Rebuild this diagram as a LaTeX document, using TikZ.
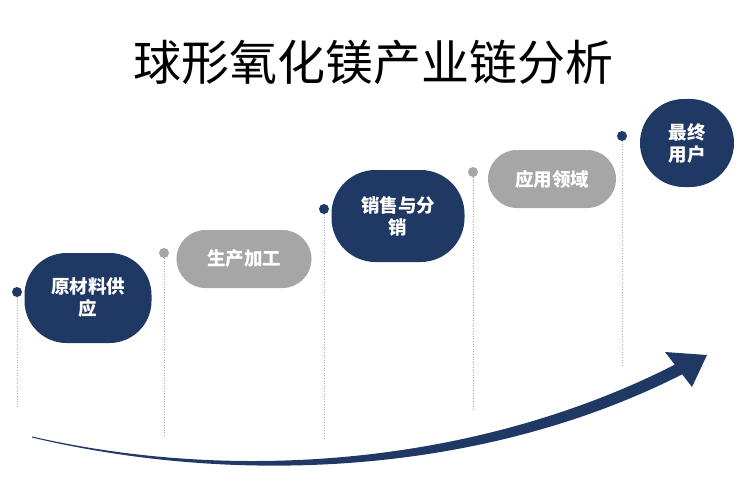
\documentclass[tikz,border=0pt]{standalone}
\usepackage{fontspec}
\setmainfont{Noto Sans CJK SC}
\definecolor{navy}{HTML}{203864}
\definecolor{pillgray}{HTML}{A6A6A6}

\begin{document}
\begin{tikzpicture}[x=1pt, y=-1pt,
  pilltext/.style={text=white, font=\fontsize{18.5}{22}\selectfont\bfseries, align=center, inner sep=0pt},
  darkpill/.style={pilltext, fill=navy},
  greypill/.style={pilltext, fill=pillgray, minimum height=58pt, rounded corners=29pt},
  keydot/.style={circle, inner sep=0pt, minimum size=10pt},
  dropline/.style={dotted, line width=0.6pt}]
  \useasboundingbox (0,0) rectangle (741,492);
  % --- title ---
  \node (title) at (373,62) {\fontsize{48}{56}\selectfont 球形氧化镁产业链分析};
  % --- stages ---
  \node[darkpill, minimum width=127pt, minimum height=90pt, rounded corners=42pt] (raw) at (88,298) {原材料供\\应};
  \node[greypill, minimum width=135pt] (prod) at (244,259) {生产加工};
  \node[darkpill, minimum width=133pt, minimum height=92pt, rounded corners=44pt] (sale) at (398,216) {销售与分\\销};
  \node[greypill, minimum width=128pt] (appl) at (552,179) {应用领域};
  \node[darkpill, minimum width=94pt, minimum height=88pt, rounded corners=44pt] (user) at (687,143) {最终\\用户};
  % --- dots and drop lines ---
  \node[keydot, fill=navy] (d1) at (17,292) {};
  \node[keydot, fill=pillgray] (d2) at (164,253) {};
  \node[keydot, fill=navy] (d3) at (324,209) {};
  \node[keydot, fill=pillgray] (d4) at (473,172) {};
  \node[keydot, fill=navy] (d5) at (622,136) {};
  \coordinate (e1) at (17,408);
  \coordinate (e2) at (164,437);
  \coordinate (e3) at (324,438);
  \coordinate (e4) at (473,410);
  \coordinate (e5) at (622,365);
  \draw[dropline, navy!40] (d1) -- (e1);
  \draw[dropline, gray!70] (d2) -- (e2);
  \draw[dropline, navy!40] (d3) -- (e3);
  \draw[dropline, gray!70] (d4) -- (e4);
  \draw[dropline, navy!40] (d5) -- (e5);
  % --- growth arrow ---
  \fill[navy] (32,436.5) .. controls (240,484) and (479.8,463.7) .. (674.8,364.7)
    -- (665,352) -- (707,355) -- (692,387) -- (682.2,374.3)
    .. controls (485.2,474.3) and (240,487) .. (32,437.5) -- cycle;
\end{tikzpicture}
\end{document}
